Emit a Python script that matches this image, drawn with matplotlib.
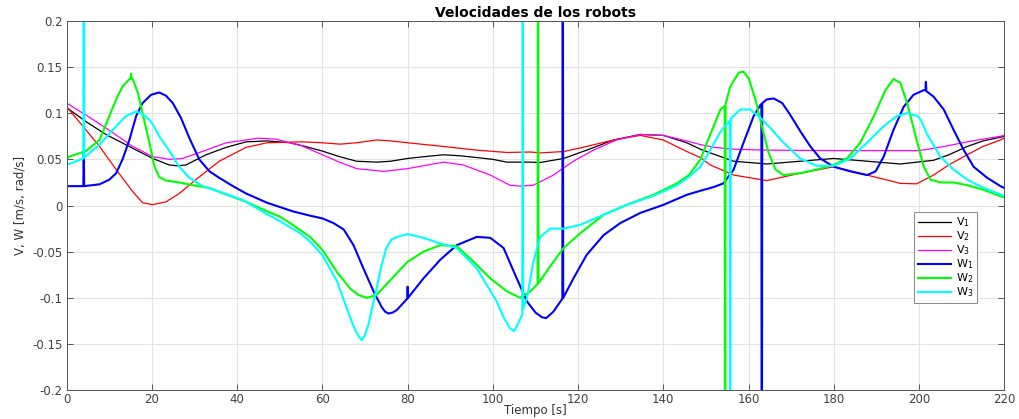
import matplotlib
matplotlib.use("Agg")
import matplotlib.pyplot as plt
from matplotlib.ticker import FormatStrFormatter

# sampled velocities: time [s] and value for each robot signal
t_v1 = [0, 4.5, 9.2, 15.5, 20.2, 24, 26, 28, 32.7, 37.4, 42.1, 47, 52.4, 56, 60, 64, 68, 72.7,
        76, 80, 84, 88.4, 92, 96.2, 100, 103.3, 108.8, 111.1, 116.6, 122, 128.3, 134.6, 140,
        145.5, 148.7, 151, 156.5, 164.3, 172.1, 180, 187.8, 195.6, 203.4, 207, 211.3, 215,
        219.1, 220]
v1 = [0.106, 0.091, 0.077, 0.062, 0.051, 0.044, 0.043, 0.044, 0.055, 0.063, 0.069, 0.070, 0.068,
      0.064, 0.059, 0.053, 0.048, 0.047, 0.048, 0.051, 0.053, 0.055, 0.054, 0.052, 0.050, 0.047,
      0.047, 0.0466, 0.051, 0.060, 0.071, 0.077, 0.076, 0.068, 0.061, 0.057, 0.048, 0.045,
      0.048, 0.051, 0.048, 0.045, 0.049, 0.055, 0.064, 0.070, 0.074, 0.075]

t_v2 = [0, 4.5, 7.7, 11.6, 15.5, 17.8, 20.2, 23.3, 26.4, 31.1, 35.8, 42.1, 47, 55, 60, 64.2, 68,
        72.7, 76, 80, 88.4, 96.2, 103.3, 108.8, 111.1, 116.6, 122, 128.3, 134.6, 140, 145.5,
        148.7, 151, 156.5, 164.3, 172.1, 180, 187.8, 195.6, 199.4, 203.4, 207, 211.3, 215,
        219.1, 220]
v2 = [0.107, 0.082, 0.064, 0.039, 0.015, 0.003, 0.001, 0.004, 0.013, 0.031, 0.048, 0.063, 0.068,
      0.069, 0.068, 0.0665, 0.068, 0.071, 0.070, 0.068, 0.064, 0.060, 0.0575, 0.058, 0.057,
      0.0585, 0.064, 0.071, 0.076, 0.071, 0.0585, 0.052, 0.044, 0.033, 0.027, 0.035, 0.042,
      0.033, 0.024, 0.0235, 0.033, 0.044, 0.055, 0.064, 0.071, 0.073]

t_v3 = [0, 4.5, 9.2, 15.5, 20.2, 24.1, 27.2, 32.7, 37.4, 42.1, 45, 49, 52.4, 55, 60, 64, 68,
        74.3, 80, 88.4, 93, 99.4, 104, 106.4, 109.5, 114.2, 118.9, 123.6, 129, 134.6, 140, 145.5,
        148.7, 152, 156.5, 164.3, 180, 200, 203.4, 207, 211.3, 215, 219.1, 220]
v3 = [0.111, 0.098, 0.084, 0.064, 0.053, 0.050, 0.051, 0.060, 0.068, 0.071, 0.073, 0.072, 0.068,
      0.065, 0.055, 0.047, 0.040, 0.037, 0.040, 0.047, 0.044, 0.033, 0.022, 0.021, 0.022, 0.033,
      0.048, 0.060, 0.071, 0.077, 0.076, 0.070, 0.066, 0.063, 0.061, 0.060, 0.0595, 0.0595,
      0.062, 0.065, 0.069, 0.072, 0.075, 0.076]

t_w1 = [0, 3.9, 4.0, 4.1, 7.7, 10, 11.6, 13.1, 14.7, 16.3, 17.8, 19.8, 21.7, 23.3, 24.9, 26.8,
        28.8, 31.1, 33.5, 35.8, 39, 42.1, 47, 53.2, 57.1, 60, 62.6, 65, 67.3, 69.6, 72, 73.9,
        74.7, 75.5, 76.5, 77.5, 79.9, 80.0, 80.1, 83.7, 87.6, 91.5, 96.2, 99.4, 102.5, 105.6,
        108, 110, 111.5, 112.5, 114.2, 116.3, 116.4, 116.5, 118.9, 122, 126, 129.9, 134.6, 140,
        145.5, 148.7, 151.8, 154.1, 156.5, 158.8, 161.2, 162.8, 163.0, 163.1, 163.2, 164.3,
        165.9, 167.9, 169.8, 172.2, 174.5, 176.8, 180, 183.9, 187.8, 189.8, 191.7, 194, 196.4,
        198.7, 201.1, 201.5, 201.6, 201.7, 203.4, 205.8, 208.1, 210.5, 212.8, 216, 219.1, 220]
w1 = [0.021, 0.021, 0.060, 0.021, 0.023, 0.028, 0.035, 0.050, 0.071, 0.097, 0.111, 0.120,
      0.1225, 0.119, 0.111, 0.095, 0.073, 0.050, 0.037, 0.030, 0.021, 0.013, 0.003, -0.0065,
      -0.011, -0.014, -0.019, -0.026, -0.043, -0.068, -0.093, -0.110, -0.115, -0.117, -0.116,
      -0.113, -0.101, -0.088, -0.100, -0.079, -0.059, -0.043, -0.034, -0.035, -0.046, -0.079,
      -0.104, -0.116, -0.121, -0.122, -0.115, -0.101, 0.5, -0.100, -0.079, -0.0535, -0.032,
      -0.019, -0.008, 0.0007, 0.0116, 0.016, 0.020, 0.024, 0.039, 0.068, 0.097, 0.109, 0.110,
      -0.5, 0.111, 0.115, 0.116, 0.111, 0.098, 0.080, 0.064, 0.051, 0.042, 0.037, 0.033, 0.037,
      0.053, 0.082, 0.107, 0.120, 0.125, 0.125, 0.134, 0.124, 0.118, 0.104, 0.082, 0.060,
      0.042, 0.030, 0.021, 0.019]

t_w2 = [0, 0.6, 4.5, 7.7, 10, 11.6, 13.1, 14.7, 15.0, 15.1, 15.2, 15.5, 16.7, 17.8, 19.4, 20.6,
        21.7, 23.3, 26.4, 29.6, 33.5, 37.4, 42.1, 45.4, 50, 52.4, 57.1, 60, 63.4, 66.5, 68.5,
        70.4, 72.7, 75.9, 80, 83.7, 87.6, 91.5, 95.5, 99.4, 103.3, 106.4, 108.8, 110.5, 110.6,
        110.7, 114.2, 116.6, 120.5, 126, 131.4, 137.7, 143.2, 146, 148.7, 151, 153.4, 154.4,
        154.5, 154.6, 155.7, 157.7, 158.8, 160, 161.6, 163.1, 164.7, 166.3, 168.2, 172.1, 176,
        180, 183.1, 186.2, 189.4, 192.1, 194, 195.6, 197.2, 199.2, 201.1, 202.7, 205, 208.1,
        211.3, 215.2, 219.1, 220]
w2 = [0.051, 0.053, 0.059, 0.071, 0.097, 0.115, 0.129, 0.137, 0.138, 0.143, 0.137, 0.137,
      0.122, 0.100, 0.068, 0.042, 0.031, 0.027, 0.025, 0.022, 0.019, 0.012, 0.004, -0.003,
      -0.012, -0.019, -0.034, -0.048, -0.072, -0.090, -0.097, -0.100, -0.097, -0.081, -0.061,
      -0.050, -0.043, -0.044, -0.061, -0.079, -0.093, -0.100, -0.093, -0.085, 0.5, -0.084,
      -0.061, -0.046, -0.030, -0.010, 0.0007, 0.0116, 0.024, 0.033, 0.050, 0.077, 0.104, 0.108,
      -0.5, 0.110, 0.129, 0.144, 0.145, 0.138, 0.115, 0.086, 0.057, 0.039, 0.033, 0.035, 0.039,
      0.044, 0.051, 0.068, 0.097, 0.125, 0.137, 0.133, 0.111, 0.075, 0.042, 0.028, 0.025, 0.025,
      0.022, 0.017, 0.010, 0.009]

t_w3 = [0, 3.9, 4.0, 4.1, 7.7, 10.8, 13.9, 16.3, 17.8, 19.4, 20.2, 21.7, 24.1, 26.4, 28.8, 31.9,
        35.8, 41.3, 45.4, 50, 54.8, 57.1, 60, 63.4, 65.7, 66.8, 68, 69.2, 70, 70.8, 71.7, 72.7,
        73.8, 75, 76.2, 77.5, 80, 83.7, 87.6, 91.5, 96.2, 100.9, 102.5, 104, 105, 105.6, 106.9,
        107.0, 107.1, 108, 109.5, 111.1, 113.5, 116.6, 120.5, 126, 131.4, 137.7, 143.2, 146,
        148.7, 151, 153.4, 155.6, 155.7, 155.8, 158, 160.4, 162.8, 165.1, 168.2, 172.1, 176, 180,
        183.9, 187.8, 191.7, 194.8, 197.2, 199.6, 200.4, 201.9, 205, 208.1, 211.3, 215.2, 219.1,
        220]
w3 = [0.044, 0.051, 0.5, 0.052, 0.066, 0.082, 0.097, 0.102, 0.099, 0.093, 0.088, 0.075, 0.059,
      0.042, 0.030, 0.021, 0.015, 0.006, -0.005, -0.017, -0.030, -0.039, -0.054, -0.082, -0.111,
      -0.125, -0.138, -0.146, -0.140, -0.129, -0.110, -0.090, -0.066, -0.046, -0.037, -0.034,
      -0.031, -0.035, -0.041, -0.046, -0.068, -0.104, -0.121, -0.133, -0.136, -0.131, -0.118,
      0.5, -0.112, -0.100, -0.061, -0.034, -0.025, -0.025, -0.021, -0.010, 0.0007, 0.0105, 0.022,
      0.031, 0.042, 0.060, 0.080, 0.092, -0.5, 0.094, 0.104, 0.104, 0.095, 0.084, 0.068, 0.051,
      0.043, 0.043, 0.051, 0.068, 0.086, 0.097, 0.100, 0.097, 0.093, 0.077, 0.053, 0.039, 0.028,
      0.019, 0.012, 0.010]

x_ticks = list(range(0, 221, 20))
y_ticks = [-0.2, -0.15, -0.1, -0.05, 0, 0.05, 0.1, 0.15, 0.2]

plt.rcParams['font.family'] = ['DejaVu Sans']

fig = plt.figure(figsize=(10.2, 4.19), dpi=100)
ax = fig.add_axes([0.0654, 0.069, 0.9192, 0.881])

ax.plot(t_v1, v1, color='#000000', lw=0.9, label='V$_1$')
ax.plot(t_v2, v2, color='#ff0000', lw=0.9, label='V$_2$')
ax.plot(t_v3, v3, color='#ff00ff', lw=0.9, label='V$_3$')
ax.plot(t_w1, w1, color='#0000ff', lw=1.5, label='W$_1$')
ax.plot(t_w2, w2, color='#00ff00', lw=1.5, label='W$_2$')
ax.plot(t_w3, w3, color='#00ffff', lw=1.5, label='W$_3$')

ax.set_xlim(0, 220)
ax.set_ylim(-0.2, 0.2)
ax.set_xticks(x_ticks)
ax.set_yticks(y_ticks)
ax.yaxis.set_major_formatter(FormatStrFormatter('%g'))
ax.grid(True, color='#e3e3e3', lw=0.8)
ax.set_axisbelow(True)
ax.tick_params(direction='in', top=True, right=True, length=4, width=0.6,
               labelsize=8.5, colors='#404040')
ax.tick_params(axis='x', pad=2)
ax.tick_params(axis='y', pad=3)
for sp in ax.spines.values():
    sp.set_color('#555555')
    sp.set_linewidth(0.7)

ax.set_title('Velocidades de los robots', fontsize=10, fontweight='bold', pad=3)
ax.set_xlabel('Tiempo [s]', fontsize=8.5, color='#333333', labelpad=-1)
ax.set_ylabel('V, W [m/s, rad/s]', fontsize=8.5, color='#333333', labelpad=4)

leg = ax.legend(loc='upper left', bbox_to_anchor=(0.898, 0.497), fontsize=8,
                handlelength=3.0, labelspacing=0.02, borderpad=0.3, fancybox=False,
                framealpha=1, edgecolor='#888888', handletextpad=0.5)
leg.get_frame().set_linewidth(0.7)

fig.savefig('out.png', dpi=100)
